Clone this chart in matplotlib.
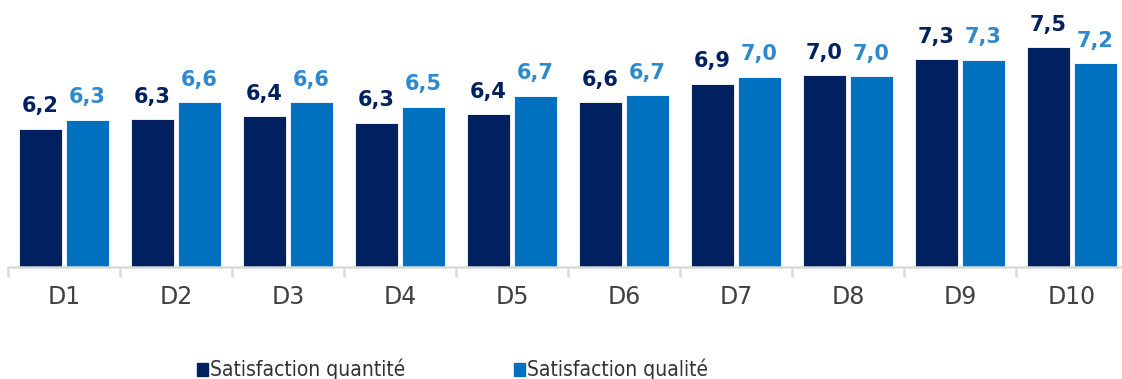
import matplotlib
matplotlib.use("Agg")
import matplotlib.pyplot as plt
import numpy as np
from matplotlib.patches import Rectangle

categories = ["D1", "D2", "D3", "D4", "D5", "D6", "D7", "D8", "D9", "D10"]
quantite = [6.19, 6.34, 6.39, 6.29, 6.42, 6.61, 6.90, 7.04, 7.29, 7.48]
qualite = [6.33, 6.61, 6.61, 6.54, 6.71, 6.72, 7.01, 7.02, 7.28, 7.23]
series_names = ["Satisfaction quantité", "Satisfaction qualité"]

NAVY = "#00205F"
BLUE = "#0070C0"
BLUE_TXT = "#2E8AD0"

W, H = 1122, 379
fig = plt.figure(figsize=(W / 100, H / 100), dpi=100)
# axes box: baseline at y=267px, one category = 112px
ax = fig.add_axes([8 / W, (H - 267) / H, 1120 / W, 265 / H])

x = np.arange(len(categories))
w = 0.385
off = 0.21
b1 = ax.bar(x - off, quantite, w, color=NAVY, edgecolor="white", linewidth=0.6)
b2 = ax.bar(x + off, qualite, w, color=BLUE, edgecolor="white", linewidth=0.6)

for bars, vals, col in [(b1, quantite, NAVY), (b2, qualite, BLUE_TXT)]:
    for r, v in zip(bars, vals):
        ax.annotate(f"{v:.1f}".replace(".", ","),
                    (r.get_x() + r.get_width() / 2, v),
                    xytext=(0, 12), textcoords="offset points",
                    ha="center", va="baseline",
                    fontsize=15, fontweight="bold", color=col)

ax.set_ylim(4, 8.2)
ax.set_xlim(-0.5, len(categories) - 0.5)

for s in ["top", "right", "left"]:
    ax.spines[s].set_visible(False)
ax.spines["bottom"].set_color("#D9D9D9")
ax.spines["bottom"].set_linewidth(1.8)
ax.set_yticks([])

# category labels centred, tick marks between categories
ax.set_xticks(x)
ax.set_xticklabels(categories, fontsize=17, color="#404040")
ax.tick_params(axis="x", which="major", length=0, pad=13)
ax.set_xticks(np.arange(-0.5, len(categories), 1), minor=True)
ax.tick_params(axis="x", which="minor", length=7, width=1.8, color="#D9D9D9")

# legend drawn by hand: square + label for each series
for (px, col, name) in [(197, NAVY, series_names[0]), (514, BLUE, series_names[1])]:
    fig.patches.append(Rectangle((px / W, (H - 376) / H), 11 / W, 13 / H,
                                 transform=fig.transFigure, color=col))
    fig.text((px + 13) / W, (H - 376) / H, name, ha="left", va="baseline",
             fontsize=15, fontstretch="condensed", color="#333333")

fig.savefig("out.png", dpi=100)
